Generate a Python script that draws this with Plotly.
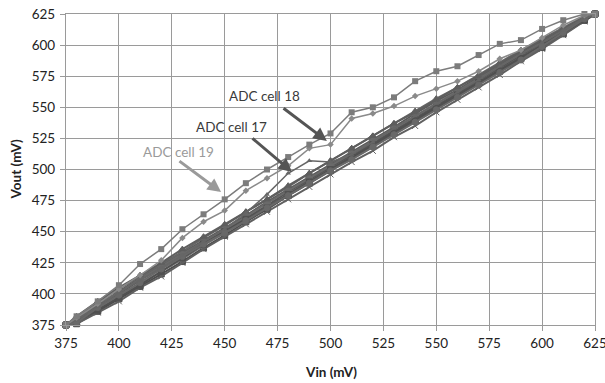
import plotly.graph_objects as go

vin = [375, 380, 390, 400, 410, 420, 430, 440, 450, 460, 470, 480, 490, 500,
       510, 520, 530, 540, 550, 560, 570, 580, 590, 600, 610, 620, 625]

cell19 = [375, 382, 394, 407, 424, 436, 452, 464, 476, 489, 500, 510, 520, 529,
          546, 550, 558, 571, 579, 583, 592, 601, 604, 613, 620, 625, 625]
cell18 = [375, 381, 392, 404, 415, 427, 445, 458, 467, 483, 493, 503, 517, 520,
          541, 545, 551, 559, 565, 571, 579, 589, 596, 606, 616, 624, 625]
cell17 = [375, 379, 390, 401, 411, 421, 431, 442, 452, 465, 480, 497, 507, 506,
          512, 522, 533, 543, 553, 562, 572, 583, 593, 602, 612, 622, 625]

bundle = {
    "cell 1": [375, 378, 391, 402, 413, 423, 433, 443, 453, 463, 474, 484, 494, 504,
               514, 524, 534, 545, 555, 564, 574, 584, 594, 603, 613, 622, 625],
    "cell 2": [375, 376, 386, 396, 406, 416, 426, 437, 447, 458, 468, 479, 489, 499,
               509, 519, 529, 539, 549, 559, 569, 579, 589, 598, 609, 620, 625],
    "cell 3": [375, 381, 393, 404, 414, 424, 434, 445, 455, 466, 476, 486, 497, 507,
               517, 527, 537, 547, 557, 566, 576, 586, 596, 605, 614, 623, 625],
    "cell 4": [375, 377, 388, 398, 408, 418, 428, 439, 449, 459, 470, 480, 491, 501,
               511, 522, 532, 542, 552, 562, 571, 581, 591, 601, 611, 621, 625],
    "cell 5": [375, 379, 390, 400, 411, 421, 431, 441, 451, 461, 471, 482, 492, 502,
               512, 521, 531, 541, 551, 561, 572, 582, 592, 602, 612, 621, 625],
    "cell 6": [375, 376, 385, 394, 405, 414, 425, 436, 446, 456, 466, 476, 486, 496,
               506, 515, 526, 535, 546, 556, 566, 576, 587, 597, 608, 619, 625],
    "cell 7": [375, 380, 392, 401, 412, 422, 432, 442, 452, 462, 473, 483, 493, 503,
               513, 523, 533, 543, 553, 563, 573, 583, 593, 602, 612, 622, 625],
    "cell 8": [375, 378, 387, 397, 407, 418, 429, 440, 450, 460, 469, 480, 490, 500,
               510, 520, 530, 540, 550, 560, 570, 580, 590, 600, 610, 620, 625],
    "cell 10": [375, 382, 394, 405, 415, 425, 436, 446, 456, 466, 476, 487, 497, 507,
                517, 527, 537, 546, 556, 566, 575, 585, 595, 604, 613, 622, 625],
    "cell 11": [375, 377, 389, 399, 409, 420, 430, 440, 449, 459, 469, 479, 489, 499,
                508, 518, 528, 538, 548, 558, 568, 578, 588, 599, 610, 621, 625],
}

x_ticks = [375, 400, 425, 450, 475, 500, 525, 550, 575, 600, 625]
y_ticks = [375, 400, 425, 450, 475, 500, 525, 550, 575, 600, 625]

bundle_colors = ["#5a5a5a", "#4d4d4d", "#666666", "#707070", "#555555",
                 "#606060", "#6a6a6a", "#505050", "#5e5e5e", "#686868"]
bundle_symbols = ["diamond", "square", "triangle-up", "x", "circle",
                  "x-thin-open", "diamond", "square", "triangle-up", "circle"]

fig = go.Figure()
for i, (name, vals) in enumerate(bundle.items()):
    fig.add_trace(go.Scatter(
        x=vin, y=vals, mode="lines+markers", name=name,
        line=dict(color=bundle_colors[i], width=2),
        marker=dict(symbol=bundle_symbols[i], size=6, color=bundle_colors[i],
                    line=dict(width=1, color=bundle_colors[i])),
        cliponaxis=False, showlegend=False))

fig.add_trace(go.Scatter(
    x=vin, y=cell17, mode="lines+markers", name="ADC cell 17",
    line=dict(color="#666666", width=1.5),
    marker=dict(symbol="triangle-up", size=5, color="#666666"),
    cliponaxis=False, showlegend=False))
fig.add_trace(go.Scatter(
    x=vin, y=cell18, mode="lines+markers", name="ADC cell 18",
    line=dict(color="#8a8a8a", width=1.5),
    marker=dict(symbol="diamond", size=5, color="#8a8a8a"),
    cliponaxis=False, showlegend=False))
fig.add_trace(go.Scatter(
    x=vin, y=cell19, mode="lines+markers", name="ADC cell 19",
    line=dict(color="#7c7c7c", width=1.5),
    marker=dict(symbol="square", size=6, color="#7c7c7c"),
    cliponaxis=False, showlegend=False))

font_family = "Lato, Open Sans, sans-serif"

annots = [
    dict(text="ADC cell 18", tx=469, ty=559, ax=477.1, ay=550.2, hx=498.3, hy=522.9,
         color="#3a3a3a", acolor="#555555"),
    dict(text="ADC cell 17", tx=453, ty=534, ax=462.4, ay=526.1, hx=481.8, hy=498.0,
         color="#3a3a3a", acolor="#555555"),
    dict(text="ADC cell 19", tx=428, ty=514, ax=427.9, ay=507.6, hx=448.3, hy=481.9,
         color="#9a9a9a", acolor="#9a9a9a"),
]
for a in annots:
    fig.add_annotation(x=a["tx"], y=a["ty"], xref="x", yref="y", text=a["text"],
                       showarrow=False, font=dict(family=font_family, size=13.5, color=a["color"]))
    fig.add_annotation(x=a["hx"], y=a["hy"], ax=a["ax"], ay=a["ay"], xref="x", yref="y",
                       axref="x", ayref="y", text="", showarrow=True, arrowhead=2,
                       arrowsize=0.9, arrowwidth=3, arrowcolor=a["acolor"])

# axis titles placed as paper annotations for precise position
fig.add_annotation(x=0.5, y=0, xref="paper", yref="paper", yshift=-47,
                   text="<b>Vin (mV)</b>", showarrow=False, yanchor="middle",
                   font=dict(family=font_family, size=13.5, color="#222222"))
fig.add_annotation(x=0, y=0.5, xref="paper", yref="paper", xshift=-51,
                   text="<b>Vout (mV)</b>", showarrow=False, textangle=-90,
                   xanchor="center", yanchor="middle",
                   font=dict(family=font_family, size=13.5, color="#222222"))

axis_common = dict(
    showgrid=True, gridcolor="#9a9a9a", gridwidth=1.2,
    showline=True, linecolor="#9a9a9a", linewidth=1.2,
    ticks="outside", ticklen=5, tickcolor="#9a9a9a", tickwidth=1.2,
    tickfont=dict(family=font_family, size=13.5, color="#222222"),
    zeroline=False, mirror=True, automargin=False,
)

fig.update_layout(
    width=608, height=383,
    margin=dict(l=66, r=13, t=14, b=58),
    paper_bgcolor="white", plot_bgcolor="white",
    xaxis=dict(range=[375, 625], tickvals=x_ticks, ticktext=[str(v) for v in x_ticks],
               ticklabelstandoff=1, **axis_common),
    yaxis=dict(range=[375, 625], tickvals=y_ticks, ticktext=[str(v) for v in y_ticks],
               ticklabelstandoff=2, **axis_common),
    showlegend=False,
)

fig.write_html("out.html", config={"displayModeBar": False},
               post_script="document.body.style.margin='0px';document.body.style.overflow='hidden';")
